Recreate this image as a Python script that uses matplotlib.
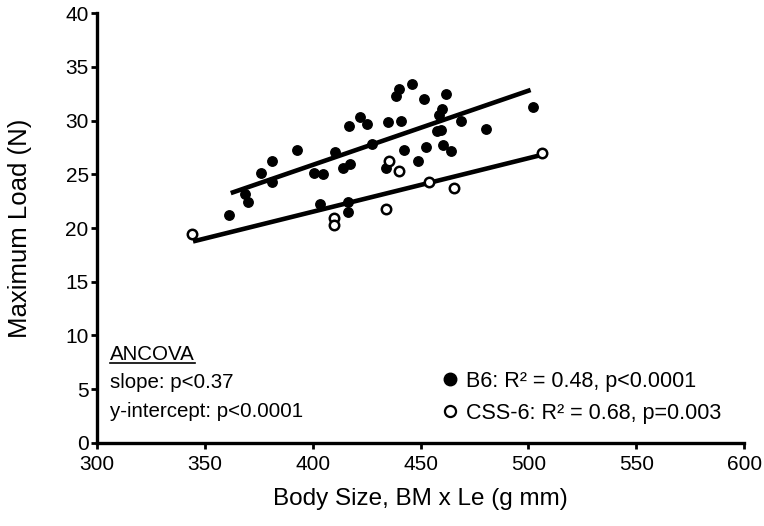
import matplotlib
matplotlib.use("Agg")
import matplotlib.pyplot as plt
from matplotlib.lines import Line2D

plt.rcParams['font.family'] = ['Liberation Sans', 'DejaVu Sans']

# B6 (filled) data
b6_x = [392.6, 381.0, 376.0, 381.3, 368.6, 369.9, 361.3,
        440.0, 445.9, 438.5, 451.7, 421.9, 416.8, 425.0, 434.8, 441.0,
        427.3, 410.3, 442.2, 452.3, 417.3, 413.9, 434.0, 448.7, 400.6, 404.6,
        403.4, 416.5, 416.5,
        461.6, 459.8, 458.6, 468.8, 502.3, 480.2, 457.5, 459.3, 460.5, 464.0]
b6_y = [27.3, 26.2, 25.1, 24.25, 23.2, 22.4, 21.2,
        32.9, 33.4, 32.3, 32.0, 30.35, 29.5, 29.7, 29.9, 29.95,
        27.8, 27.1, 27.26, 27.56, 26.0, 25.6, 25.6, 26.2, 25.1, 25.0,
        22.2, 22.4, 21.5,
        32.5, 31.1, 30.5, 30.0, 31.3, 29.2, 29.0, 29.1, 27.7, 27.2]

# CSS-6 (open) data
css_x = [343.9, 410.0, 410.0, 434.0, 435.5, 440.1, 454.0, 465.5, 506.2]
css_y = [19.4, 20.9, 20.3, 21.8, 26.2, 25.3, 24.3, 23.7, 27.0]

# regression lines (endpoints)
b6_fit_x = [362.0, 501.0]
b6_fit_y = [23.25, 32.85]
css_fit_x = [344.5, 505.0]
css_fit_y = [18.75, 26.75]

x_ticks = [300, 350, 400, 450, 500, 550, 600]
y_ticks = [0, 5, 10, 15, 20, 25, 30, 35, 40]

fig = plt.figure(figsize=(7.64, 5.26), dpi=100)
ax = fig.add_axes([0.127, 0.158, 0.847, 0.817])

ax.plot(b6_fit_x, b6_fit_y, color='black', lw=3.3, solid_capstyle='butt', zorder=2)
ax.plot(css_fit_x, css_fit_y, color='black', lw=3.3, solid_capstyle='butt', zorder=2)
ax.plot(b6_x, b6_y, 'o', color='black', ms=6.8, zorder=3, ls='none')
ax.plot(css_x, css_y, 'o', mfc='white', mec='black', mew=1.8, ms=6.8, zorder=3, ls='none')

ax.set_xlim(300, 600)
ax.set_ylim(0, 40)
ax.set_xticks(x_ticks)
ax.set_yticks(y_ticks)
ax.tick_params(labelsize=15, width=2, length=4, direction='out')
ax.tick_params(axis='x', pad=5)
ax.tick_params(axis='y', pad=2)
for s in ['top', 'right']:
    ax.spines[s].set_visible(False)
for s in ['left', 'bottom']:
    ax.spines[s].set_linewidth(2.4)

ax.set_xlabel('Body Size, BM x Le (g mm)', fontsize=17.5, labelpad=10)
ax.set_ylabel('Maximum Load (N)', fontsize=18.5, labelpad=24)

fs = 14.8
t = ax.text(0.020, 0.205, 'ANCOVA', transform=ax.transAxes, fontsize=fs, va='center', ha='left')
ax.text(0.020, 0.140, 'slope: p<0.37', transform=ax.transAxes, fontsize=fs, va='center', ha='left')
ax.text(0.020, 0.074, 'y-intercept: p<0.0001', transform=ax.transAxes, fontsize=fs, va='center', ha='left')

fig.canvas.draw()
bb = t.get_window_extent().transformed(ax.transAxes.inverted())
ax.plot([bb.x0, bb.x1], [bb.y0 + 0.002, bb.y0 + 0.002], color='black', lw=1.2,
        transform=ax.transAxes, clip_on=False)

handles = [Line2D([], [], marker='o', color='black', ls='none', ms=9),
           Line2D([], [], marker='o', mfc='white', mec='black', mew=1.6, ls='none', ms=8)]
labels = ['B6: R² = 0.48, p<0.0001', 'CSS-6: R² = 0.68, p=0.003']
ax.legend(handles, labels, loc='lower left', bbox_to_anchor=(0.519, 0.02), frameon=False,
          fontsize=15.5, handlelength=0.6, handletextpad=0.45, labelspacing=0.5, borderpad=0)

fig.savefig('out.png', dpi=100)
